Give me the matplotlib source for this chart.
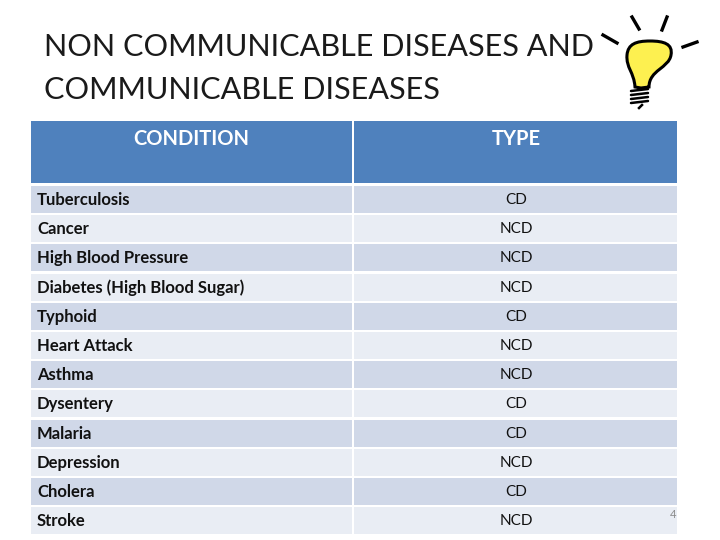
import matplotlib
matplotlib.use("Agg")
import matplotlib.pyplot as plt
from matplotlib.patches import Rectangle, PathPatch
from matplotlib.path import Path

plt.rcParams['font.family'] = ['Lato', 'DejaVu Sans']

# Table contents
title_lines = ["NON COMMUNICABLE DISEASES AND", "COMMUNICABLE DISEASES"]
headers = ["CONDITION", "TYPE"]
conditions = ["Tuberculosis", "Cancer", "High Blood Pressure", "Diabetes (High Blood Sugar)",
              "Typhoid", "Heart Attack", "Asthma", "Dysentery", "Malaria", "Depression",
              "Cholera", "Stroke"]
types = ["CD", "NCD", "NCD", "NCD", "CD", "NCD", "NCD", "CD", "CD", "NCD", "CD", "NCD"]
page_number = "4"

# Colors
HEADER_BLUE = "#4f81bd"
ROW_DARK = "#d0d8e8"
ROW_LIGHT = "#e9edf4"

# Table layout in pixels
LEFT, SPLIT, RIGHT = 31, 353, 677
HEAD_TOP, HEAD_BOTTOM = 121, 183
ROW_TOP, ROW_STEP, ROW_H = 186, 29.2, 27

fig = plt.figure(figsize=(7.2, 5.4), dpi=100)
ax = fig.add_axes([0, 0, 1, 1])
ax.set_xlim(0, 720)
ax.set_ylim(540, 0)
ax.axis("off")

# Title
ax.text(44, 47, title_lines[0], fontsize=22.1, color="#1a1a1a", va="center", ha="left")
ax.text(44, 90, title_lines[1], fontsize=22.1, color="#1a1a1a", va="center", ha="left")

# Header
ax.add_patch(Rectangle((LEFT, HEAD_TOP), SPLIT - LEFT - 1, HEAD_BOTTOM - HEAD_TOP, fc=HEADER_BLUE, ec="none"))
ax.add_patch(Rectangle((SPLIT + 1, HEAD_TOP), RIGHT - SPLIT - 1, HEAD_BOTTOM - HEAD_TOP, fc=HEADER_BLUE, ec="none"))
ax.text(191, 139, headers[0], fontsize=14.5, color="white", ha="center", va="center", fontweight="bold")
ax.text(516, 139, headers[1], fontsize=14.5, color="white", ha="center", va="center", fontweight="bold")

# Rows
for i, (cond, typ) in enumerate(zip(conditions, types)):
    y = ROW_TOP + i * ROW_STEP
    color = ROW_DARK if i % 2 == 0 else ROW_LIGHT
    ax.add_patch(Rectangle((LEFT, y), SPLIT - LEFT - 1, ROW_H, fc=color, ec="none"))
    ax.add_patch(Rectangle((SPLIT + 1, y), RIGHT - SPLIT - 1, ROW_H, fc=color, ec="none"))
    ax.text(37, y + ROW_H / 2 + 0.5, cond, fontsize=11.95, color="#111111", ha="left", va="center", fontweight="bold")
    ax.text(516.5, y + ROW_H / 2 + 0.5, typ, fontsize=11, color="#111111", ha="center", va="center")

# Page number
ax.text(673, 515, page_number, fontsize=8, color="#8c8c8c", ha="center", va="center")

# Light bulb
bulb_verts = [(635, 87), (634, 72), (626, 68), (627, 55), (628, 44), (636, 41), (650, 41),
              (664, 41), (673, 44), (671, 55), (669, 68), (649, 70), (649, 87), (641, 88), (635, 87)]
bulb_codes = [Path.MOVETO] + [Path.CURVE4] * 12 + [Path.LINETO, Path.CLOSEPOLY]
ax.add_patch(PathPatch(Path(bulb_verts, bulb_codes), fc="#fdf050", ec="black", lw=2.2))
for y in [91, 95, 99, 103]:
    ax.plot([631, 648], [y, y - 2], color="black", lw=1.8, solid_capstyle="round")
ax.plot([639, 642], [108, 105], color="black", lw=1.8)

# Rays
rays = [((603, 35), (617, 43)), ((632, 17), (639, 29)), ((667, 17), (662, 30)), ((683, 47), (697, 42))]
for a, b in rays:
    ax.plot([a[0], b[0]], [a[1], b[1]], color="black", lw=2.4)

fig.savefig("out.png", dpi=100)
